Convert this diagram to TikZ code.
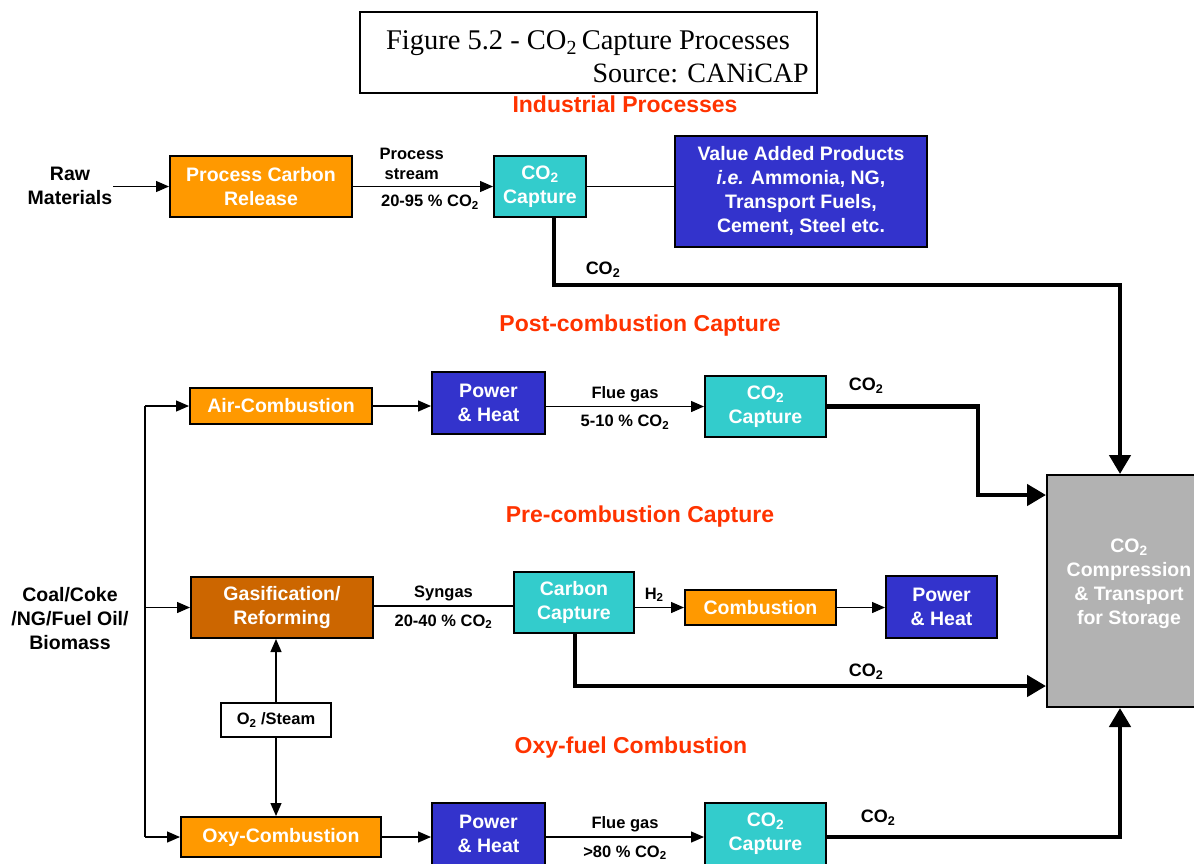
\documentclass[tikz,border=0pt]{standalone}
\usepackage{fontspec}
\setmainfont{Liberation Sans}
\newfontfamily\titlefont{Liberation Serif}
\usetikzlibrary{arrows.meta}

\definecolor{procorange}{HTML}{FF9900}
\definecolor{gasorange}{HTML}{CC6600}
\definecolor{capteal}{HTML}{33CCCC}
\definecolor{powblue}{HTML}{3333CC}
\definecolor{storegray}{HTML}{B2B2B2}
\definecolor{headred}{HTML}{FF3300}

\newcommand{\boxfont}{\fontsize{19.5}{24}\selectfont\bfseries}
\newcommand{\labfont}{\fontsize{16.5}{20}\selectfont\bfseries}
\newcommand{\headfont}{\fontsize{23}{27}\selectfont\bfseries}
\newcommand{\cotwo}{CO\textsubscript{2}}

\begin{document}
\begin{tikzpicture}[x=1pt, y=-1pt,
    unit/.style={draw=black, line width=2pt, text=white, font=\boxfont, align=center, inner sep=0pt},
    orangeunit/.style={unit, fill=procorange},
    gasunit/.style={unit, fill=gasorange},
    capunit/.style={unit, fill=capteal, minimum width=121pt, minimum height=61pt},
    powunit/.style={unit, fill=powblue, minimum width=113pt, minimum height=62pt},
    sidetext/.style={font=\boxfont, align=center, inner sep=1pt},
    lab/.style={font=\labfont, align=center},
    labup/.style={lab, above, inner sep=4pt},
    labdown/.style={lab, below, inner sep=8pt},
    colab/.style={font=\fontsize{18}{20}\selectfont\bfseries, inner sep=0pt},
    heading/.style={font=\headfont, text=headred, inner sep=0pt},
    thinline/.style={line width=1.3pt},
    thinarrow/.style={thinline, -{Triangle[length=13pt, width=11pt]}},
    thickarrow/.style={line width=4.5pt, -{Triangle[length=19pt, width=21pt]}}]

    \useasboundingbox (0,0) rectangle (1194,863);

    % Title
    \node[draw, line width=1.5pt, minimum width=457pt, minimum height=81pt] (titlebox) at (588.5,52.5) {};
    \node[font=\titlefont\fontsize{28.5}{32}\selectfont] (ttl) at (588,43) {Figure 5.2 - CO\textsubscript{2}\,Capture Processes};
    \node[font=\titlefont\fontsize{28}{32}\selectfont, anchor=east, inner sep=0pt] (src) at (809,73) {Source: CANiCAP};

    % Industrial processes
    \node[heading] (hind) at (625,104) {Industrial Processes};
    \node[sidetext] (raw) at (70,186) {Raw\\Materials};
    \node[orangeunit, minimum width=182pt, minimum height=61pt] (pcr) at (261,186.5) {Process Carbon\\Release};
    \node[capunit, minimum width=92pt] (capind) at (540,186.5) {\cotwo\\Capture};
    \node[unit, fill=powblue, minimum width=252pt, minimum height=111pt] (vap) at (801,191)
        {Value Added Products\\\textit{i.e.} Ammonia, NG,\\Transport Fuels,\\Cement, Steel etc.};
    \draw[thinarrow] (raw.east |- pcr) -- (pcr);
    \draw[thinarrow] (pcr) -- node[labup, pos=0.42, inner sep=6pt] {Process\\stream}
        node[labdown, pos=0.55] {20-95 \% \cotwo} (capind);
    \draw[thinline] (capind) -- (capind -| vap.west);

    % Storage
    \node[unit, fill=storegray, minimum width=164pt, minimum height=232pt] (store) at (1129,591) {};
    \node[sidetext, text=white] (storetext) at (1129,584) {\cotwo\\Compression\\\& Transport\\for Storage};
    \coordinate (stcol) at (1120,0);

    \coordinate (indbend) at (554,285);
    \draw[thickarrow] (capind.south -| indbend) -- (indbend) -| (store.north -| stcol);
    \node[colab] (coind) at (603,270) {\cotwo};

    % Post-combustion
    \node[heading] (hpost) at (640,326) {Post-combustion Capture};
    \node[orangeunit, minimum width=182pt, minimum height=36pt] (airc) at (281,406) {Air-Combustion};
    \node[powunit] (powpost) at (488.5,403) {Power\\\& Heat};
    \node[capunit] (cappost) at (765.5,406.5) {\cotwo\\Capture};
    \draw[thinarrow] (airc) -- (airc -| powpost.west);
    \draw[thinarrow] (powpost.east |- cappost) -- node[labup] {Flue gas}
        node[labdown] {5-10 \% \cotwo} (cappost);
    \coordinate (postbend) at (978,495);
    \draw[thickarrow] (cappost.east) -| (postbend) -- (store.west |- postbend);
    \node[colab] (copost) at (866,386) {\cotwo};

    % Pre-combustion
    \node[heading] (hpre) at (640,517) {Pre-combustion Capture};
    \node[sidetext] (coal) at (70,619) {Coal/Coke\\/NG/Fuel Oil/\\Biomass};
    \node[gasunit, minimum width=182pt, minimum height=61pt] (gasif) at (282,607.5) {Gasification/\\Reforming};
    \node[capunit, minimum width=120pt] (carbcap) at (574,602.5) {Carbon\\Capture};
    \node[orangeunit, minimum width=151pt, minimum height=35pt] (comb) at (760.5,607.5) {Combustion};
    \node[powunit, minimum width=111pt] (powpre) at (941.5,607) {Power\\\& Heat};
    \draw[thinline] (gasif.east |- 0,606) -- node[labup] {Syngas}
        node[labdown] {20-40 \% \cotwo} (carbcap.west |- 0,606);
    \draw[thinarrow] (carbcap.east |- comb) -- node[lab, above left, pos=0.7, inner sep=5pt] {H\textsubscript{2}} (comb);
    \draw[thinarrow] (comb) -- (comb -| powpre.west);
    \coordinate (prebend) at (575,686);
    \draw[thickarrow] (carbcap.south -| prebend) -- (prebend) -- (store.west |- prebend);
    \node[colab] (copre) at (866,672) {\cotwo};

    % Oxy-fuel
    \node[heading] (hoxy) at (631,748) {Oxy-fuel Combustion};
    \node[draw, line width=2pt, fill=white, font=\labfont, minimum width=110pt, minimum height=34pt, inner sep=0pt] (steam) at (276,720) {O\textsubscript{2} /Steam};
    \node[orangeunit, minimum width=200pt, minimum height=40pt] (oxyc) at (281,837) {Oxy-Combustion};
    \node[powunit] (powoxy) at (488.5,834) {Power\\\& Heat};
    \node[capunit, minimum height=62pt] (capoxy) at (765.5,834) {\cotwo\\Capture};
    \draw[thinarrow] (steam) -- (gasif.south -| steam);
    \draw[thinarrow] (steam) -- (oxyc.north -| steam);
    \draw[thinarrow] (oxyc.east |- 0,837) -- (powoxy.west |- 0,837);
    \draw[thinarrow] (powoxy.east |- 0,837) -- node[labup] {Flue gas}
        node[labdown] {>80 \% \cotwo} (capoxy.west |- 0,837);
    \draw[thickarrow] (capoxy.east |- 0,837) -| (store.south -| stcol);
    \node[colab] (cooxy) at (878,818) {\cotwo};

    % Feed line
    \coordinate (feedtop) at (145,406);
    \coordinate (feedbot) at (145,837);
    \draw[thinline] (feedtop) -- (feedbot);
    \draw[thinarrow] (feedtop) -- (airc);
    \draw[thinarrow] (gasif.west -| feedtop) -- (gasif);
    \draw[thinarrow] (feedbot) -- (oxyc.west |- feedbot);

\end{tikzpicture}
\end{document}
